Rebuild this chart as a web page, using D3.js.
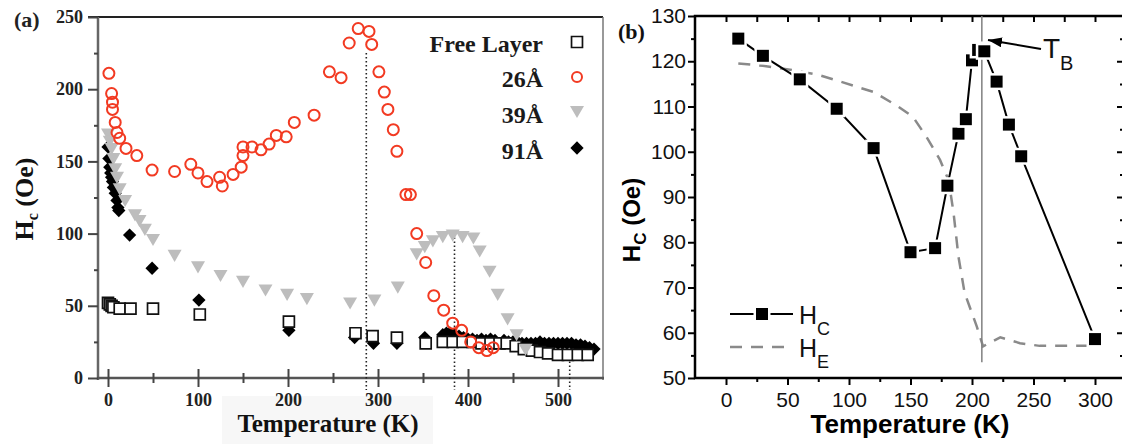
<!DOCTYPE html>
<html lang="en">
<head>
<meta charset="utf-8">
<title>Hc vs Temperature</title>
<script src="https://d3js.org/d3.v7.min.js"></script>
<style>
  body { margin: 0; background: white; }
  svg text { font-family: "Liberation Serif", serif; }
  .pb text { font-family: "Liberation Sans", Arial, sans-serif; }
</style>
</head>
<body>
<script>
const w = 1122;
const h = 444;

// ---------- panel (a) data: temperature (K) and Hc (Oe)
const freeT = [0, 2, 4, 6, 13, 25, 50, 102, 201, 275, 294, 321, 353, 372, 383, 394, 405, 415, 425, 435, 443, 453, 462, 471, 480, 489, 500, 511, 522, 533];
const freeH = [52, 51, 50, 49, 48, 48, 48, 44, 39, 31, 29, 28, 24, 25, 25, 25, 25, 24, 24, 24, 24, 22, 20, 19, 18, 17, 16, 16, 16, 16];

const a26T = [1, 4, 5, 5, 8, 10, 13, 20, 32, 49, 74, 92, 100, 110, 124, 127, 139, 148, 150, 150, 160, 170, 179, 187, 198, 207, 229, 246, 259, 268, 278, 290, 293, 301, 307, 311, 317, 321, 331, 336, 343, 353, 362, 373, 383, 393, 403, 412, 421, 428];
const a26H = [211, 197, 191, 186, 177, 170, 166, 159, 154, 144, 143, 148, 142, 136, 139, 133, 141, 146, 154, 160, 160, 158, 162, 168, 167, 177, 182, 212, 208, 232, 242, 240, 231, 212, 198, 186, 172, 157, 127, 127, 100, 80, 57, 47, 38, 33, 25, 21, 19, 21];

const a39T = [0, 2, 4, 6, 8, 10, 13, 19, 30, 35, 41, 50, 74, 100, 125, 150, 175, 199, 221, 269, 296, 322, 343, 352, 361, 372, 383, 394, 406, 413, 424, 433, 444, 454, 464];
const a39H = [170, 165, 160, 153, 146, 140, 132, 124, 114, 110, 104, 97, 86, 78, 72, 68, 62, 59, 56, 53, 55, 64, 87, 92, 96, 99, 100, 99, 98, 89, 75, 59, 42, 31, 21];

const a91T = [0, 1, 2, 3, 4, 5, 6, 8, 10, 11, 12, 24, 49, 101, 201, 274, 295, 321, 352, 372, 376, 380, 385, 390, 395, 400, 405, 410, 415, 420, 425, 430, 440, 445, 450, 455, 460, 465, 470, 475, 480, 485, 490, 495, 500, 505, 510, 515, 520, 525, 530, 535, 540];
const a91H = [160, 152, 146, 142, 139, 136, 132, 128, 123, 118, 116, 99, 76, 54, 33, 28, 24, 24, 28, 30, 31, 31, 30, 29, 28, 27, 27, 26, 27, 26, 27, 26, 26, 25, 25, 25, 24, 24, 24, 24, 25, 24, 24, 24, 24, 24, 24, 24, 23, 23, 22, 21, 20];

const markT = [287, 385, 513];
const markTop = [225, 100, 17];
const legendA = ["Free Layer", "26\u00C5", "39\u00C5", "91\u00C5"];

// ---------- panel (b) data
const hcT = [10, 30, 60, 90, 120, 150, 170, 180, 189, 195, 200, 205, 210, 220, 230, 240, 300];
const hcH = [125, 121.2, 116, 109.5, 100.8, 77.8, 78.7, 92.5, 104, 107.2, 120.2, 122.5, 122.2, 115.5, 106, 99, 58.6];
const heT = [10, 30, 55, 75, 93, 120, 140, 152, 163, 174, 181, 185, 189, 194, 198, 204, 209, 223, 239, 255, 282, 300];
const heH = [119.5, 119, 118, 117, 115.5, 113.2, 110, 107.7, 103.3, 98.2, 93.7, 86.5, 76.8, 68.8, 65.8, 61.3, 57, 59, 57.7, 57.1, 57.1, 57.1];
const blockingT = 208;

const svg = d3.select("body")
  .append("svg")
  .attr("width", w)
  .attr("height", h);

svg.append("rect").attr("width", w).attr("height", h).attr("fill", "white");

// ================= panel (a) =================
const pa = svg.append("g");
const xA = d3.scaleLinear().domain([0, 550]).range([108, 603]);
const yA = d3.scaleLinear().domain([0, 250]).range([378, 17]);

// faint scanned box behind the axis title
pa.append("rect").attr("x", 222).attr("y", 396).attr("width", 211).attr("height", 48).attr("fill", "#f7f7f7");

pa.append("line").attr("x1", 88).attr("x2", 603).attr("y1", 17).attr("y2", 17)
  .attr("stroke", "#222").attr("stroke-width", 2);
pa.append("line").attr("x1", 603).attr("x2", 603).attr("y1", 17).attr("y2", 380)
  .attr("stroke", "#777").attr("stroke-width", 1.5);
pa.append("line").attr("x1", 98).attr("x2", 98).attr("y1", 17).attr("y2", 380)
  .attr("stroke", "#666").attr("stroke-width", 2.5);
pa.append("line").attr("x1", 97).attr("x2", 604).attr("y1", 378).attr("y2", 378)
  .attr("stroke", "#555").attr("stroke-width", 2.5);

function styleA(g, size) {
  g.select(".domain").remove();
  g.selectAll(".tick line").attr("stroke", "#444").attr("stroke-width", 2);
  g.selectAll(".tick text").attr("font-size", size).attr("font-weight", "bold")
    .attr("fill", "#222").style("font-family", "'Liberation Serif', serif");
}

pa.append("g").attr("transform", "translate(98,0)")
  .call(d3.axisLeft(yA).tickValues([0, 50, 100, 150, 200, 250]).tickSize(10).tickPadding(5))
  .call(g => styleA(g, 18));
pa.append("g").attr("transform", "translate(98,0)")
  .call(d3.axisLeft(yA).tickValues([25, 75, 125, 175, 225]).tickSize(4).tickFormat(""))
  .call(g => styleA(g, 18));

pa.append("g").attr("transform", "translate(0,378)")
  .call(d3.axisBottom(xA).tickValues([0, 100, 200, 300, 400, 500]).tickSize(9).tickPadding(6))
  .call(g => styleA(g, 18));
pa.append("g").attr("transform", "translate(0,378)")
  .call(d3.axisTop(xA).tickValues([0, 100, 200, 300, 400, 500]).tickSize(9).tickFormat(""))
  .call(g => styleA(g, 18));
pa.append("g").attr("transform", "translate(0,378)")
  .call(d3.axisBottom(xA).tickValues([50, 150, 250, 350, 450]).tickSize(5).tickFormat(""))
  .call(g => styleA(g, 18));
pa.append("g").attr("transform", "translate(0,378)")
  .call(d3.axisTop(xA).tickValues([50, 150, 250, 350, 450]).tickSize(5).tickFormat(""))
  .call(g => styleA(g, 18));

// dotted guide lines
pa.selectAll(".guide")
  .data(markT)
  .enter()
  .append("line")
  .attr("x1", d => xA(d)).attr("x2", d => xA(d))
  .attr("y1", (d, i) => yA(markTop[i]))
  .attr("y2", 390)
  .attr("stroke", "#222").attr("stroke-width", 1.6)
  .attr("stroke-dasharray", "1.5,2.5");

const sqA = d3.symbol(d3.symbolSquare, 120)();
const diaA = d3.symbol(d3.symbolSquare, 88)();
const triA = d3.symbol(d3.symbolTriangle, 85)();
const red = "#f23a22";

pa.selectAll(".d91")
  .data(a91T)
  .enter()
  .append("path")
  .attr("d", diaA)
  .attr("transform", (d, i) => `translate(${xA(d)},${yA(a91H[i])}) rotate(45)`)
  .attr("fill", "#000");

pa.selectAll(".dfree")
  .data(freeT)
  .enter()
  .append("path")
  .attr("d", sqA)
  .attr("transform", (d, i) => `translate(${xA(d)},${yA(freeH[i])})`)
  .attr("fill", "white").attr("stroke", "#111").attr("stroke-width", 1.7);

pa.selectAll(".d39")
  .data(a39T)
  .enter()
  .append("path")
  .attr("d", triA)
  .attr("transform", (d, i) => `translate(${xA(d)},${yA(a39H[i])}) rotate(180)`)
  .attr("fill", "#bdbdbd");

pa.selectAll(".d26")
  .data(a26T)
  .enter()
  .append("circle")
  .attr("cx", d => xA(d))
  .attr("cy", (d, i) => yA(a26H[i]))
  .attr("r", 5.5)
  .attr("fill", "none").attr("stroke", red).attr("stroke-width", 2);

// legend (a)
const legY = [44, 79, 115, 151];
pa.selectAll(".legtext")
  .data(legendA)
  .enter()
  .append("text")
  .attr("x", 543)
  .attr("y", (d, i) => legY[i] + 8)
  .attr("text-anchor", "end")
  .attr("font-size", 24).attr("font-weight", "bold").attr("fill", "#1a1a1a")
  .text(d => d);
pa.append("path").attr("d", sqA).attr("transform", `translate(577,${legY[0] - 2})`)
  .attr("fill", "white").attr("stroke", "#111").attr("stroke-width", 1.7);
pa.append("circle").attr("cx", 577).attr("cy", legY[1] - 2).attr("r", 5)
  .attr("fill", "none").attr("stroke", red).attr("stroke-width", 2);
pa.append("path").attr("d", triA).attr("transform", `translate(577,${legY[2] - 5}) rotate(180)`)
  .attr("fill", "#bdbdbd");
pa.append("path").attr("d", diaA).attr("transform", `translate(577,${legY[3] - 3}) rotate(45)`)
  .attr("fill", "#000");

pa.append("text").attr("x", 14).attr("y", 27)
  .attr("font-size", 22).attr("font-weight", "bold").attr("fill", "#222").text("(a)");

pa.append("text").attr("x", 328).attr("y", 432)
  .attr("text-anchor", "middle")
  .attr("font-size", 25).attr("font-weight", "bold").attr("fill", "#111")
  .text("Temperature (K)");

const ylabA = pa.append("text")
  .attr("transform", "translate(33,199) rotate(-90)")
  .attr("text-anchor", "middle")
  .attr("font-size", 26).attr("font-weight", "bold").attr("fill", "#111");
ylabA.append("tspan").text("H");
ylabA.append("tspan").attr("font-size", 16).attr("dy", 5).text("c");
ylabA.append("tspan").attr("dy", -5).text(" (Oe)");

// ================= panel (b) =================
const pb = svg.append("g").attr("class", "pb");
const xB = d3.scaleLinear().domain([0, 300]).range([726, 1095]);
const yB = d3.scaleLinear().domain([50, 130]).range([378, 16]);

pb.append("rect").attr("x", 695).attr("y", 16).attr("width", 429).attr("height", 362)
  .attr("fill", "none").attr("stroke", "#000").attr("stroke-width", 2.5);

function styleB(g) {
  g.select(".domain").remove();
  g.selectAll(".tick line").attr("stroke", "#000").attr("stroke-width", 2);
  g.selectAll(".tick text").attr("font-size", 21).attr("fill", "#111")
    .style("font-family", "'Liberation Sans', Arial, sans-serif");
}

pb.append("g").attr("transform", "translate(695,0)")
  .call(d3.axisLeft(yB).tickValues(d3.range(50, 131, 10)).tickSize(7).tickPadding(2))
  .call(styleB);
pb.append("g").attr("transform", "translate(695,0)")
  .call(d3.axisLeft(yB).tickValues(d3.range(55, 130, 10)).tickSize(4).tickFormat(""))
  .call(styleB);
pb.append("g").attr("transform", "translate(1124,0)")
  .call(d3.axisLeft(yB).tickValues(d3.range(60, 121, 10)).tickSize(-7).tickFormat(""))
  .call(g => g.selectAll(".tick line").attr("x2", -7))
  .call(styleB);
pb.append("g").attr("transform", "translate(1124,0)")
  .call(d3.axisLeft(yB).tickValues(d3.range(55, 126, 10)).tickSize(-4).tickFormat(""))
  .call(g => g.selectAll(".tick line").attr("x2", -4))
  .call(styleB);

pb.append("g").attr("transform", "translate(0,378)")
  .call(d3.axisBottom(xB).tickValues(d3.range(0, 301, 50)).tickSize(7).tickPadding(7))
  .call(styleB);
pb.append("g").attr("transform", "translate(0,378)")
  .call(d3.axisBottom(xB).tickValues(d3.range(25, 300, 50)).tickSize(4).tickFormat(""))
  .call(styleB);
pb.append("g").attr("transform", "translate(0,16)")
  .call(d3.axisBottom(xB).tickValues(d3.range(0, 301, 25)).tickSize(6).tickFormat(""))
  .call(styleB);

// H_E dashed line
const lineB = d3.line().x(d => xB(d[0])).y(d => yB(d[1]));
pb.append("path")
  .attr("d", lineB(d3.zip(heT, heH)))
  .attr("fill", "none").attr("stroke", "#8a8a8a").attr("stroke-width", 2.5)
  .attr("stroke-dasharray", "12,9");

// blocking temperature line
pb.append("line")
  .attr("x1", xB(blockingT)).attr("x2", xB(blockingT))
  .attr("y1", 16).attr("y2", yB(53.5))
  .attr("stroke", "#808080").attr("stroke-width", 1.5);

// H_C line + markers
pb.append("path")
  .attr("d", lineB(d3.zip(hcT, hcH)))
  .attr("fill", "none").attr("stroke", "#000").attr("stroke-width", 2);
pb.selectAll(".hc")
  .data(hcT)
  .enter()
  .append("rect")
  .attr("x", d => xB(d) - 6)
  .attr("y", (d, i) => yB(hcH[i]) - 6)
  .attr("width", 12).attr("height", 12)
  .attr("fill", "#000").attr("stroke", "white").attr("stroke-width", 5)
  .style("paint-order", "stroke");

// T_B annotation
svg.append("defs").append("marker")
  .attr("id", "arr").attr("markerUnits", "userSpaceOnUse")
  .attr("viewBox", "0 0 14 10").attr("markerWidth", 14).attr("markerHeight", 10)
  .attr("refX", 14).attr("refY", 5).attr("orient", "auto")
  .append("path").attr("d", "M0,0 L14,5 L0,10 z").attr("fill", "#000");
pb.append("line")
  .attr("x1", 1041).attr("y1", 49).attr("x2", 988).attr("y2", 40)
  .attr("stroke", "#000").attr("stroke-width", 2).attr("marker-end", "url(#arr)");
const tb = pb.append("text").attr("x", 1043).attr("y", 58).attr("font-size", 28).attr("fill", "#111");
tb.append("tspan").text("T");
tb.append("tspan").attr("font-size", 20).attr("dy", 12).text("B");

// legend (b)
pb.append("line").attr("x1", 730).attr("x2", 793).attr("y1", 314).attr("y2", 314)
  .attr("stroke", "#000").attr("stroke-width", 2);
pb.append("rect").attr("x", 756).attr("y", 308).attr("width", 12).attr("height", 12)
  .attr("fill", "#000").attr("stroke", "white").attr("stroke-width", 5).style("paint-order", "stroke");
pb.append("line").attr("x1", 730).attr("x2", 793).attr("y1", 347).attr("y2", 347)
  .attr("stroke", "#8a8a8a").attr("stroke-width", 2.5).attr("stroke-dasharray", "12,9");
const lg1 = pb.append("text").attr("x", 799).attr("y", 324).attr("font-size", 25).attr("fill", "#111");
lg1.append("tspan").text("H");
lg1.append("tspan").attr("font-size", 18).attr("dy", 11).text("C");
const lg2 = pb.append("text").attr("x", 799).attr("y", 357).attr("font-size", 25).attr("fill", "#111");
lg2.append("tspan").text("H");
lg2.append("tspan").attr("font-size", 18).attr("dy", 11).text("E");

pb.append("text").attr("x", 618).attr("y", 39)
  .attr("font-size", 22).attr("font-weight", "bold").attr("fill", "#111")
  .style("font-family", "'Liberation Serif', serif")
  .text("(b)");

pb.append("text").attr("x", 910).attr("y", 433)
  .attr("text-anchor", "middle")
  .attr("font-size", 26).attr("font-weight", "bold").attr("fill", "#000")
  .text("Temperature (K)");

const ylabB = pb.append("text")
  .attr("transform", "translate(640,220) rotate(-90)")
  .attr("text-anchor", "middle")
  .attr("font-size", 24).attr("font-weight", "bold").attr("fill", "#000");
ylabB.append("tspan").text("H");
ylabB.append("tspan").attr("font-size", 17).attr("dy", 6).text("C");
ylabB.append("tspan").attr("dy", -6).text(" (Oe)");
</script>
</body>
</html>
